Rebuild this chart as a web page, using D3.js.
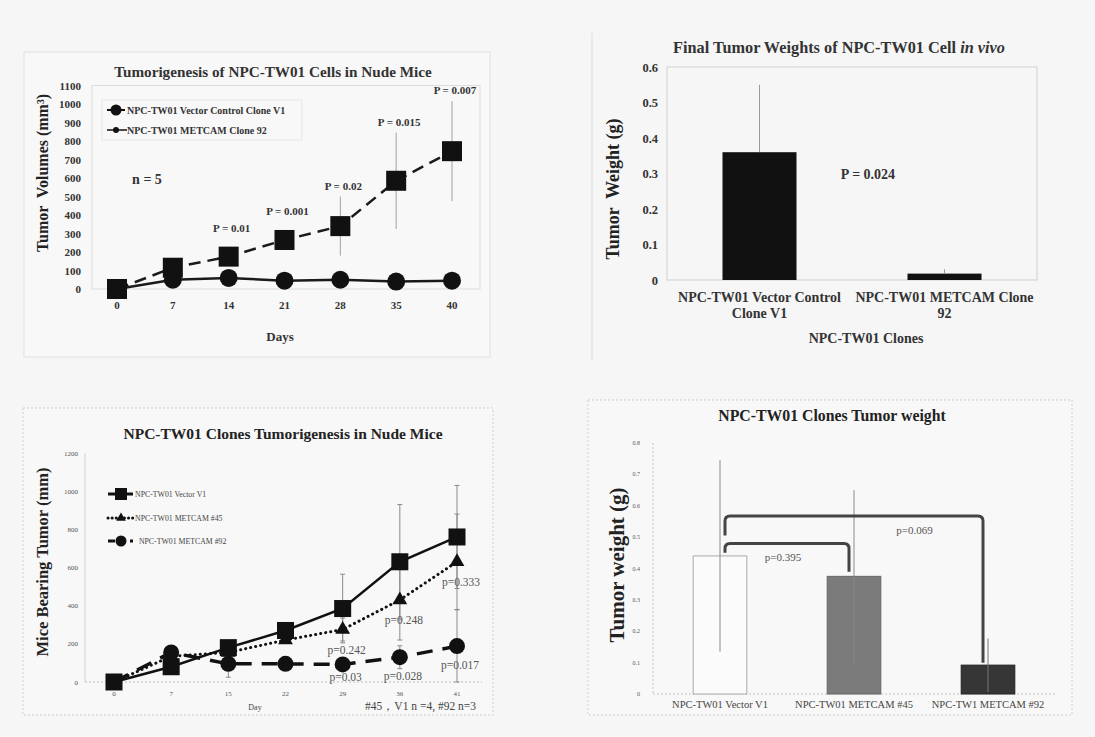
<!DOCTYPE html>
<html>
<head>
<meta charset="utf-8">
<script src="https://cdn.jsdelivr.net/npm/d3@7"></script>
<style>
  body { margin: 0; background: #f6f6f6; }
  svg { display: block; font-family: "Liberation Serif", "Times New Roman", serif; }
</style>
</head>
<body>
<svg id="fig" width="1095" height="737"></svg>
<script>
// Panel A - tumour volume, vector control vs METCAM clone 92
const daysA = [0, 7, 14, 21, 28, 35, 40];
const vectorVolA = [0, 115, 175, 265, 340, 585, 745];
const vectorErrA = [0, 25, 30, 35, 160, 260, 270];
const metcamVolA = [0, 50, 60, 45, 50, 40, 45];
const pValuesA = ["", "", "P = 0.01", "P = 0.001", "P = 0.02", "P = 0.015", "P = 0.007"];
const yTicksA = d3.range(0, 1101, 100);

// Panel B - final tumour weights
const clonesB = [["NPC-TW01 Vector Control", "Clone V1"], ["NPC-TW01 METCAM Clone", "92"]];
const weightsB = [0.36, 0.018];
const weightErrB = [0.19, 0.012];
const yTicksB = d3.range(7).map(i => i / 10);

// Panel C - three clones over time
const daysC = [0, 7, 15, 22, 29, 36, 41];
const v1C = [0, 80, 180, 270, 385, 630, 760];
const v1ErrC = [0, 20, 30, 40, 180, 300, 270];
const m45C = [0, 135, 155, 220, 275, 430, 630];
const m45ErrC = [0, 20, 30, 40, 60, 210, 250];
const m92C = [0, 155, 95, 95, 92, 130, 188];
const m92ErrC = [0, 20, 70, 30, 30, 60, 190];
const p45C = ["", "", "", "", "p=0.242", "p=0.248", "p=0.333"];
const p92C = ["", "", "", "", "p=0.03", "p=0.028", "p=0.017"];
const yTicksC = d3.range(0, 1201, 200);

// Panel D - tumour weight of three clones
const clonesD = ["NPC-TW01 Vector V1", "NPC-TW01 METCAM #45", "NPC-TW1 METCAM #92"];
const weightsD = [0.44, 0.375, 0.092];
const weightErrD = [0.305, 0.275, 0.085];
const bracketsD = [
    { from: 0, to: 1, left: 0.45, right: 0.39, top: 0.48, label: "p=0.395", at: 0.5 },
    { from: 0, to: 2, left: 0.505, right: 0.1, top: 0.567, label: "p=0.069", at: 0.75 }
];
const yTicksD = d3.range(9).map(i => i / 10);

const svg = d3.select("#fig");
svg.append("rect").attr("width", 1095).attr("height", 737).attr("fill", "#f6f6f6");

function txt(g, x, y, s, size, opts = {}) {
    return g.append("text")
        .attr("x", x).attr("y", y)
        .attr("font-size", size)
        .attr("font-weight", opts.bold ? "bold" : "normal")
        .attr("fill", opts.fill || "#222")
        .attr("text-anchor", opts.anchor || "middle")
        .style("white-space", "pre")
        .text(s);
}

function vtxt(g, x, y, s, size) {
    return g.append("text")
        .attr("transform", `translate(${x},${y}) rotate(-90)`)
        .attr("font-size", size).attr("font-weight", "bold")
        .attr("fill", "#222").attr("text-anchor", "middle")
        .style("white-space", "pre")
        .text(s);
}

function errBar(g, x, y0, y1, color, cap) {
    g.append("line").attr("x1", x).attr("x2", x).attr("y1", y0).attr("y2", y1)
        .attr("stroke", color).attr("stroke-width", 1);
    if (cap) {
        [y0, y1].forEach(y => g.append("line").attr("x1", x - cap).attr("x2", x + cap)
            .attr("y1", y).attr("y2", y).attr("stroke", color).attr("stroke-width", 1));
    }
}

// ---------------- Panel A ----------------
(function () {
    const g = svg.append("g");
    g.append("rect").attr("x", 24).attr("y", 52).attr("width", 466).attr("height", 305)
        .attr("fill", "#f8f8f8").attr("stroke", "#e0e0e0");

    const x = d3.scalePoint().domain(daysA).range([117, 452]);
    const y = d3.scaleLinear().domain([0, 1100]).range([289, 85.5]);

    g.append("rect").attr("x", 92).attr("y", y(1100)).attr("width", 388).attr("height", y(0) - y(1100))
        .attr("fill", "none").attr("stroke", "#dcdcdc");

    txt(g, 273, 77, "Tumorigenesis of NPC-TW01 Cells in Nude Mice", 15.2, { bold: true, fill: "#333" });

    yTicksA.forEach(v => txt(g, 81, y(v) + 4, String(v), 11, { bold: true, anchor: "end", fill: "#333" }));
    daysA.forEach(d => txt(g, x(d), 309, String(d), 11, { bold: true, fill: "#333" }));
    txt(g, 280, 341, "Days", 13, { bold: true, fill: "#333" });
    vtxt(g, 48, 173, "Tumor  Volumes (mm³)", 16);

    daysA.forEach((d, i) => {
        if (vectorErrA[i] > 0) errBar(g, x(d), y(vectorVolA[i] - vectorErrA[i]), y(vectorVolA[i] + vectorErrA[i]), "#a0a0a0");
    });

    const line = d3.line().x((v, i) => x(daysA[i])).y(v => y(v));
    g.append("path").attr("d", line(metcamVolA)).attr("fill", "none")
        .attr("stroke", "#1a1a1a").attr("stroke-width", 2.5);
    g.append("path").attr("d", line(vectorVolA)).attr("fill", "none")
        .attr("stroke", "#1a1a1a").attr("stroke-width", 2.5).attr("stroke-dasharray", "12,7");

    g.selectAll(".cA").data(metcamVolA).enter().append("circle")
        .attr("cx", (v, i) => x(daysA[i])).attr("cy", v => y(v)).attr("r", 9).attr("fill", "#111");
    g.selectAll(".sA").data(vectorVolA).enter().append("rect")
        .attr("x", (v, i) => x(daysA[i]) - 10).attr("y", v => y(v) - 10)
        .attr("width", 20).attr("height", 20).attr("fill", "#111");

    pValuesA.forEach((p, i) => {
        if (!p) return;
        const v = vectorVolA[i];
        const py = Math.min(y(v) - 25, y(v + vectorErrA[i]) - 7);
        txt(g, x(daysA[i]) + 3, py, p, 11, { bold: true, fill: "#333" });
    });

    txt(g, x(0) + 30, y(565), "n = 5", 14, { bold: true, fill: "#333" });

    // legend
    g.append("rect").attr("x", 102).attr("y", 100).attr("width", 200).attr("height", 40)
        .attr("fill", "none").attr("stroke", "#e6e6e6");
    g.append("line").attr("x1", 107).attr("x2", 125).attr("y1", 110).attr("y2", 110).attr("stroke", "#111").attr("stroke-width", 2);
    g.append("circle").attr("cx", 116).attr("cy", 110).attr("r", 5.5).attr("fill", "#111");
    txt(g, 127, 113.5, "NPC-TW01 Vector Control Clone V1", 10, { bold: true, anchor: "start", fill: "#333" });
    g.append("line").attr("x1", 107).attr("x2", 127).attr("y1", 130).attr("y2", 130).attr("stroke", "#111").attr("stroke-width", 1.5);
    g.append("circle").attr("cx", 116).attr("cy", 130).attr("r", 3).attr("fill", "#111");
    txt(g, 127, 133.5, "NPC-TW01 METCAM Clone 92", 10, { bold: true, anchor: "start", fill: "#333" });
})();

// ---------------- Panel B ----------------
(function () {
    const g = svg.append("g");
    g.append("line").attr("x1", 592).attr("x2", 592).attr("y1", 33).attr("y2", 360).attr("stroke", "#dadada");

    const x = d3.scaleBand().domain([0, 1]).range([667, 1037]).paddingInner(0.6).paddingOuter(0.3);
    const y = d3.scaleLinear().domain([0, 0.6]).range([280, 67]);

    g.append("rect").attr("x", 667).attr("y", y(0.6)).attr("width", 370).attr("height", y(0) - y(0.6))
        .attr("fill", "none").attr("stroke", "#cfcfcf");

    const title = txt(g, 839, 53, "Final Tumor Weights of NPC-TW01 Cell ", 16.3, { bold: true, fill: "#333" });
    title.append("tspan").attr("font-style", "italic").text("in vivo");

    yTicksB.forEach(v => txt(g, 658, y(v) + 4.5, String(v), 12.5, { bold: true, anchor: "end", fill: "#333" }));

    weightsB.forEach((v, i) => {
        const cx = x(i) + x.bandwidth() / 2;
        g.append("rect").attr("x", x(i)).attr("y", y(v)).attr("width", x.bandwidth())
            .attr("height", y(0) - y(v)).attr("fill", "#111");
        errBar(g, cx, y(v), y(v + weightErrB[i]), "#999");
        const t = txt(g, cx, 302, "", 14, { bold: true, fill: "#333" });
        clonesB[i].forEach((s, k) => t.append("tspan").attr("x", cx).attr("dy", k ? 15.5 : 0).text(s));
    });

    txt(g, (x(0) + x(1) + x.bandwidth()) / 2 + 16, y(0.3) + 5, "P = 0.024", 14, { bold: true, fill: "#333" });
    txt(g, 866, 343, "NPC-TW01 Clones", 14, { bold: true, fill: "#333" });
    vtxt(g, 619, 189, "Tumor  Weight (g)", 18);
})();

// ---------------- Panel C ----------------
(function () {
    const g = svg.append("g");
    g.append("rect").attr("x", 23).attr("y", 408).attr("width", 470).attr("height", 307)
        .attr("fill", "#f8f8f8").attr("stroke", "#cfcfcf").attr("stroke-dasharray", "2,2");

    const x = d3.scalePoint().domain(daysC).range([114, 457]);
    const y = d3.scaleLinear().domain([0, 1200]).range([682, 453]);

    g.append("line").attr("x1", 85).attr("x2", 85).attr("y1", y(1200)).attr("y2", y(0)).attr("stroke", "#d0d0d0");
    g.append("line").attr("x1", 85).attr("x2", 482).attr("y1", y(0)).attr("y2", y(0))
        .attr("stroke", "#bbb").attr("stroke-dasharray", "2,2");

    txt(g, 283, 439, "NPC-TW01 Clones Tumorigenesis in Nude Mice", 15.5, { bold: true, fill: "#222" });
    yTicksC.forEach(v => txt(g, 78, y(v) + 2.5, String(v), 7, { anchor: "end", fill: "#555" }));
    daysC.forEach(d => txt(g, x(d), 696, String(d), 7, { fill: "#555" }));
    txt(g, 255, 710, "Day", 8, { fill: "#444" });
    txt(g, 476, 710, "#45，V1 n =4, #92 n=3", 11.5, { anchor: "end", fill: "#444" });
    vtxt(g, 48, 562, "Mice Bearing Tumor (mm)", 16.5);

    [[v1C, v1ErrC], [m45C, m45ErrC], [m92C, m92ErrC]].forEach(([vals, errs]) => {
        vals.forEach((v, i) => {
            if (errs[i] > 40) errBar(g, x(daysC[i]), y(Math.max(0, v - errs[i])), y(v + errs[i]), "#8a8a8a", 2.5);
        });
    });

    const line = d3.line().x((v, i) => x(daysC[i])).y(v => y(v));
    g.append("path").attr("d", line(m92C)).attr("fill", "none").attr("stroke", "#111")
        .attr("stroke-width", 3.5).attr("stroke-dasharray", "16,10");
    g.append("path").attr("d", line(m45C)).attr("fill", "none").attr("stroke", "#111")
        .attr("stroke-width", 3).attr("stroke-dasharray", "0.1,5").attr("stroke-linecap", "round");
    g.append("path").attr("d", line(v1C)).attr("fill", "none").attr("stroke", "#111").attr("stroke-width", 2.5);

    const tri = d3.symbol().type(d3.symbolTriangle).size(95);
    g.selectAll(".c92").data(m92C).enter().append("circle")
        .attr("cx", (v, i) => x(daysC[i])).attr("cy", v => y(v)).attr("r", 8).attr("fill", "#111");
    g.selectAll(".t45").data(m45C).enter().append("path").attr("d", tri)
        .attr("transform", (v, i) => `translate(${x(daysC[i])},${y(v)})`).attr("fill", "#111");
    g.selectAll(".s1").data(v1C).enter().append("rect")
        .attr("x", (v, i) => x(daysC[i]) - 8.5).attr("y", v => y(v) - 8.5)
        .attr("width", 17).attr("height", 17).attr("fill", "#111");

    p45C.forEach((p, i) => { if (p) txt(g, x(daysC[i]) + 4, y(m45C[i]) + 24, p, 11.5, { fill: "#555" }); });
    p92C.forEach((p, i) => { if (p) txt(g, x(daysC[i]) + 3, Math.min(y(m92C[i]) + 23, 681), p, 11.5, { fill: "#555" }); });

    // legend
    const legend = [
        { y: 494, dash: null, mark: "square", label: "NPC-TW01 Vector V1" },
        { y: 518, dash: "0.1,4", mark: "tri", label: "NPC-TW01 METCAM #45" },
        { y: 541, dash: "7,4", mark: "circle", label: "  NPC-TW01 METCAM #92" }
    ];
    legend.forEach(e => {
        const l = g.append("line").attr("x1", 108).attr("x2", 133).attr("y1", e.y).attr("y2", e.y)
            .attr("stroke", "#111").attr("stroke-width", 3);
        if (e.dash) l.attr("stroke-dasharray", e.dash).attr("stroke-linecap", e.dash.startsWith("0.1") ? "round" : "butt");
        if (e.mark === "square") g.append("rect").attr("x", 115).attr("y", e.y - 6).attr("width", 12).attr("height", 12).attr("fill", "#111");
        if (e.mark === "tri") g.append("path").attr("d", d3.symbol().type(d3.symbolTriangle).size(40)).attr("transform", `translate(121,${e.y})`).attr("fill", "#111");
        if (e.mark === "circle") g.append("circle").attr("cx", 121).attr("cy", e.y).attr("r", 5.5).attr("fill", "#111");
        txt(g, 135, e.y + 2.5, e.label, 7.8, { anchor: "start", fill: "#444" });
    });
})();

// ---------------- Panel D ----------------
(function () {
    const g = svg.append("g");
    g.append("rect").attr("x", 588).attr("y", 400).attr("width", 484).attr("height", 315)
        .attr("fill", "#f8f8f8").attr("stroke", "#cfcfcf").attr("stroke-dasharray", "2,2");

    const x = d3.scaleBand().domain([0, 1, 2]).range([653, 1055]).paddingInner(0.6).paddingOuter(0.3);
    const y = d3.scaleLinear().domain([0, 0.8]).range([694, 443]);
    const cx = i => x(i) + x.bandwidth() / 2;

    g.append("line").attr("x1", 653).attr("x2", 653).attr("y1", y(0.8)).attr("y2", y(0))
        .attr("stroke", "#c4c4c4").attr("stroke-dasharray", "2,2");
    g.append("line").attr("x1", 653).attr("x2", 1055).attr("y1", y(0)).attr("y2", y(0))
        .attr("stroke", "#c4c4c4").attr("stroke-dasharray", "2,2");

    txt(g, 832, 421, "NPC-TW01 Clones Tumor weight", 15.8, { bold: true, fill: "#222" });
    yTicksD.forEach(v => txt(g, 640, y(v) + 2, String(v), 6, { anchor: "end", fill: "#555" }));
    vtxt(g, 624, 565, "Tumor weight (g)", 21);

    const fills = ["#fbfbfb", "#7b7b7b", "#363636"];
    const strokes = ["#aaaaaa", "#666666", "#222222"];
    weightsD.forEach((v, i) => {
        g.append("rect").attr("x", x(i)).attr("y", y(v)).attr("width", x.bandwidth())
            .attr("height", y(0) - y(v)).attr("fill", fills[i]).attr("stroke", strokes[i]);
        errBar(g, cx(i), y(v - weightErrD[i]), y(v + weightErrD[i]), i === 2 ? "#777" : "#8a8a8a");
        txt(g, cx(i), 708, clonesD[i], 10.5, { fill: "#444" });
    });

    const r = 5;
    bracketsD.forEach(b => {
        const xl = cx(b.from) + 5, xr = cx(b.to) - 5, yt = y(b.top);
        const p = d3.path();
        p.moveTo(xl, y(b.left));
        p.lineTo(xl, yt + r);
        p.quadraticCurveTo(xl, yt, xl + r, yt);
        p.lineTo(xr - r, yt);
        p.quadraticCurveTo(xr, yt, xr, yt + r);
        p.lineTo(xr, y(b.right));
        g.append("path").attr("d", p.toString()).attr("fill", "none")
            .attr("stroke", "#444").attr("stroke-width", 3);
        txt(g, xl + (xr - xl) * b.at - 4, yt + 18, b.label, 11, { fill: "#555" });
    });
})();
</script>
</body>
</html>
